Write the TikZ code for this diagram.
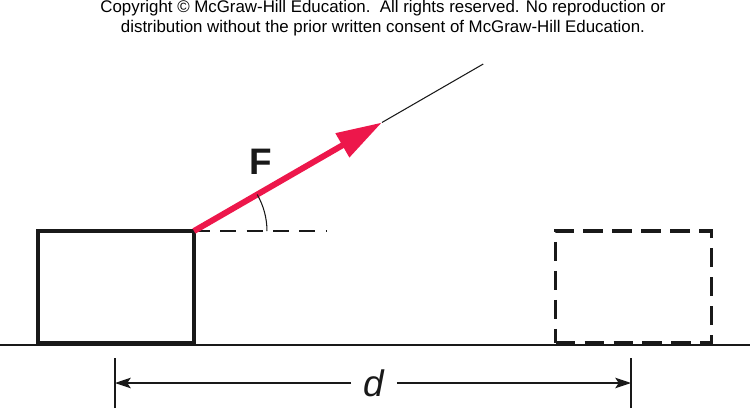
\documentclass[tikz,border=0pt]{standalone}
\usepackage{fontspec}
\setmainfont{Liberation Sans}
\usetikzlibrary{positioning, calc, arrows.meta}
\definecolor{clForce}{RGB}{237, 23, 75}
\definecolor{clInk}  {RGB}{ 25, 25, 25}
\tikzset{
  %% crate at start and end position
  block/.style={
    rectangle, draw=clInk, line width=1.9pt,
    minimum width=3.12cm, minimum height=2.24cm,
    inner sep=0pt, outer sep=0pt
  },
  ghost/.style={block, dash pattern=on 11pt off 5.5pt},
  %% lines
  ground/.style={draw=clInk, line width=0.9pt},
  thin/.style={draw=clInk, line width=0.6pt},
  guide/.style={thin, dash pattern=on 9pt off 6pt},
  force/.style={
    -{Triangle[length=26pt, width=15pt]},
    line width=3.4pt, color=clForce
  },
  dim/.style={thin, -{Stealth[length=9pt, width=6pt, inset=2pt]}},
  %% labels
  lblF/.style={font=\fontsize{21}{25}\selectfont\bfseries, text=clInk},
  lblD/.style={font=\fontsize{21}{25}\selectfont\itshape, text=clInk,
    inner xsep=7pt},
  note/.style={font=\fontsize{9.6}{11.3}\selectfont, align=center}
}

\begin{document}
\begin{tikzpicture}[x=0.02cm, y=0.02cm]

\useasboundingbox (0,0) rectangle (750,410);

%% header
\node[note] (copy) at (383,392) {Copyright \textcopyright{} McGraw-Hill Education.\ \ All rights reserved. No reproduction or\\
distribution without the prior written consent of McGraw-Hill Education.};

%% ground
\coordinate (gndL) at (0,65);
\coordinate (gndR) at (750,65);
\draw[ground] (gndL) -- (gndR);

%% crates
\node[block] (start) at (116,123) {};
\node[ghost] (finish) at (633.5,123) {};

%% force direction
\coordinate (tip) at ($(start.north east)+(30:217)$);
\coordinate (ray) at ($(start.north east)+(30:334)$);
\coordinate (level) at ($(start.north east)+(133,0)$);

\draw[guide] (start.north east) -- (level);
\draw[thin] (tip) -- (ray);
\draw[force] (start.north east) -- (tip);
\draw[thin] ($(start.north east)+(1.46cm,0)$)
  arc[start angle=0, end angle=30, radius=1.46cm];

\node[lblF] (F) at (261,248) {F};

%% displacement
\coordinate (dimL) at (115,27);
\coordinate (dimR) at (631,27);
\draw[thin] ($(dimL)+(0,-25)$) -- ($(dimL)+(0,25)$);
\draw[thin] ($(dimR)+(0,-25)$) -- ($(dimR)+(0,25)$);

\node[lblD] (d) at (374,27) {d};
\draw[dim] (d.west) -- (dimL);
\draw[dim] (d.east) -- (dimR);

\end{tikzpicture}
\end{document}
